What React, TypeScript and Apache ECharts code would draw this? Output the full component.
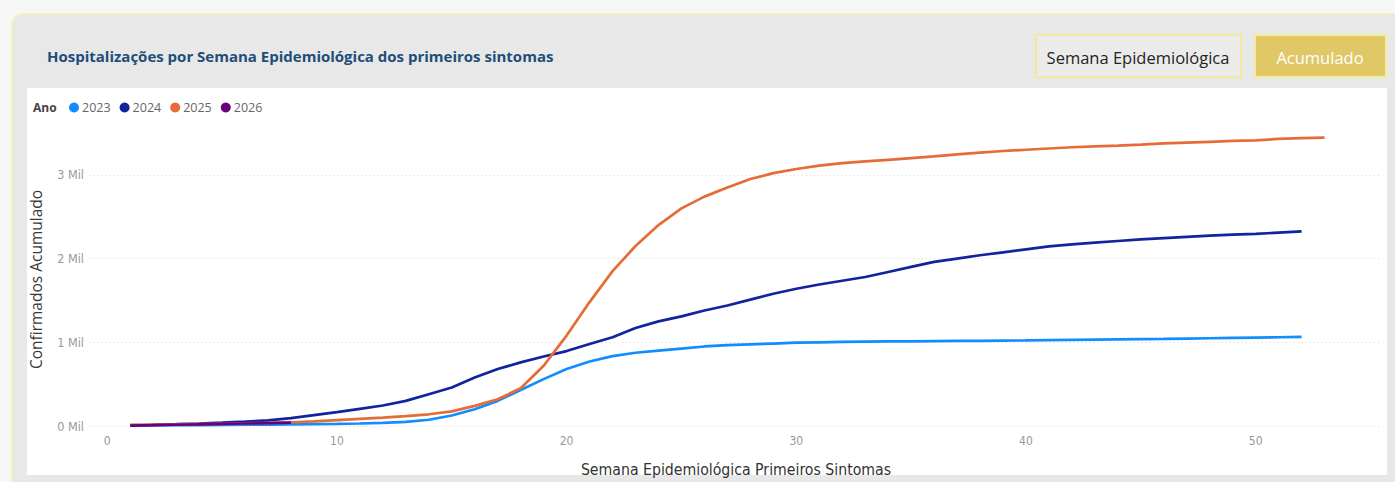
import React, { useEffect, useRef } from "react";
import * as echarts from "echarts";

const weeks2023 = Array.from({ length: 52 }, (_, i) => i + 1);
const weeks2025 = Array.from({ length: 53 }, (_, i) => i + 1);
const weeks2026 = [1, 2, 3, 4, 5, 6, 7, 8];

const values2023 = [
  5, 7, 9, 11, 13, 15, 17, 19, 22, 25, 30, 38, 50, 75, 125, 200, 300, 430, 560, 680,
  770, 835, 875, 900, 925, 950, 965, 975, 985, 995, 1000, 1005, 1008, 1010, 1012, 1014,
  1016, 1018, 1020, 1022, 1025, 1028, 1031, 1034, 1037, 1040, 1044, 1048, 1052, 1056,
  1060, 1065,
];
const values2024 = [
  10, 15, 22, 30, 40, 52, 68, 95, 130, 165, 205, 245, 300, 380, 460, 580, 680, 760, 830,
  895, 980, 1060, 1170, 1250, 1310, 1380, 1440, 1510, 1580, 1640, 1690, 1735, 1780, 1840,
  1900, 1960, 2000, 2040, 2075, 2110, 2145, 2170, 2190, 2210, 2230, 2245, 2260, 2275,
  2285, 2295, 2310, 2325,
];
const values2025 = [
  10, 14, 18, 22, 27, 32, 38, 45, 55, 70, 85, 100, 118, 140, 175, 240, 320, 450, 720,
  1080, 1480, 1850, 2150, 2400, 2600, 2740, 2850, 2950, 3020, 3070, 3110, 3140, 3160,
  3180, 3200, 3220, 3245, 3265, 3285, 3300, 3315, 3330, 3340, 3350, 3362, 3375, 3385,
  3395, 3405, 3412, 3430, 3438, 3445,
];
const values2026 = [5, 10, 15, 20, 25, 30, 35, 40];

const yearNames = ["2023", "2024", "2025", "2026"];
const yearColors = ["#118DFF", "#12239E", "#E66C37", "#6B007B"];
const xTickValues = [0, 10, 20, 30, 40, 50];
const yTickValues = [0, 1000, 2000, 3000];

const TITLE = "Hospitalizações por Semana Epidemiológica dos primeiros sintomas";
const BTN1 = "Semana Epidemiológica";
const BTN2 = "Acumulado";
const X_NAME = "Semana Epidemiológica Primeiros Sintomas";
const Y_NAME = "Confirmados Acumulado";

const SANS = "'Open Sans', 'Noto Sans', sans-serif";
const NARROW = "'Liberation Sans Narrow', 'DejaVu Sans Condensed', sans-serif";

function pairs(xs: number[], ys: number[]) {
  return xs.map((x, i) => [x, ys[i]]);
}

export default function App() {
  const ref = useRef<HTMLDivElement>(null);
  useEffect(() => {
    if (!ref.current) return;
    const chart = echarts.init(ref.current, null, { renderer: "svg" });
    const seriesData = [
      pairs(weeks2023, values2023),
      pairs(weeks2023, values2024),
      pairs(weeks2025, values2025),
      pairs(weeks2026, values2026),
    ];
    chart.setOption({
      animation: false,
      backgroundColor: "#f7f7f7",
      graphic: [
        {
          type: "rect",
          z: -10,
          shape: { x: 12, y: 14, width: 1400, height: 480, r: 12 },
          style: { fill: "#e8e8e8", stroke: "#f4efbd", lineWidth: 2 },
        },
        {
          type: "rect",
          z: -9,
          shape: { x: 27, y: 88, width: 1360, height: 387 },
          style: { fill: "#ffffff" },
        },
        {
          type: "text",
          x: 47,
          y: 56,
          style: {
            text: TITLE,
            fill: "#1f4e79",
            font: `bold 15px ${SANS}`,
            textVerticalAlign: "middle",
          },
        },
        {
          type: "rect",
          shape: { x: 1036, y: 35, width: 205, height: 42 },
          style: { fill: "#ebebeb", stroke: "#f1ea9c", lineWidth: 2 },
        },
        {
          type: "text",
          x: 1138,
          y: 57,
          style: {
            text: BTN1,
            fill: "#252423",
            font: `16.5px ${SANS}`,
            textAlign: "center",
            textVerticalAlign: "middle",
          },
        },
        {
          type: "rect",
          shape: { x: 1255, y: 35, width: 131, height: 42 },
          style: { fill: "#e0c866", stroke: "#f3eba2", lineWidth: 2 },
        },
        {
          type: "text",
          x: 1320,
          y: 57,
          style: {
            text: BTN2,
            fill: "#ffffff",
            font: `16.5px ${SANS}`,
            textAlign: "center",
            textVerticalAlign: "middle",
          },
        },
        {
          type: "text",
          x: 33,
          y: 107,
          style: {
            text: "Ano",
            fill: "#444444",
            font: `bold 12px ${SANS}`,
            textVerticalAlign: "middle",
          },
        },
      ],
      legend: {
        data: yearNames,
        left: 69,
        top: 101,
        padding: 0,
        icon: "circle",
        itemWidth: 10,
        itemHeight: 10,
        itemGap: 9,
        textStyle: { color: "#666666", fontSize: 12.5, fontFamily: SANS, padding: [0, 0, 0, -2] },
      },
      grid: { left: 90, right: 13, top: 133, bottom: 54, containLabel: false },
      xAxis: {
        type: "value",
        min: -0.75,
        max: 55.5,
        name: X_NAME,
        nameLocation: "middle",
        nameGap: 35,
        nameTextStyle: { color: "#333333", fontSize: 15.7, fontFamily: NARROW },
        axisLine: { show: false },
        axisTick: { show: false },
        splitLine: { show: false },
        axisLabel: {
          customValues: xTickValues,
          color: "#999999",
          fontSize: 12,
          fontFamily: NARROW,
          margin: 9,
        },
      },
      yAxis: {
        type: "value",
        min: 0,
        max: 3500,
        interval: 1000,
        name: Y_NAME,
        nameLocation: "middle",
        nameGap: 46,
        nameTextStyle: { color: "#3a3a3a", fontSize: 15.5, fontFamily: SANS },
        axisLine: { show: false },
        axisTick: { show: false },
        axisLabel: {
          showMaxLabel: false,
          formatter: (v: number) => (yTickValues.includes(v) ? `${v / 1000} Mil` : ""),
          color: "#999999",
          fontSize: 12.5,
          fontFamily: NARROW,
          margin: 6,
        },
        splitLine: {
          showMaxLine: false,
          lineStyle: { color: "#d6d6d6", type: [1, 3], width: 1 },
        },
      },
      series: yearNames.map((name, i) => ({
        name,
        type: "line",
        data: seriesData[i],
        showSymbol: false,
        symbol: "circle",
        color: yearColors[i],
        lineStyle: { width: 2.7, color: yearColors[i] },
        clip: false,
      })),
    });
    return () => chart.dispose();
  }, []);
  return (
    <div
      ref={ref}
      style={{ position: "fixed", left: 0, top: 0, width: 1395, height: 482 }}
    />
  );
}
